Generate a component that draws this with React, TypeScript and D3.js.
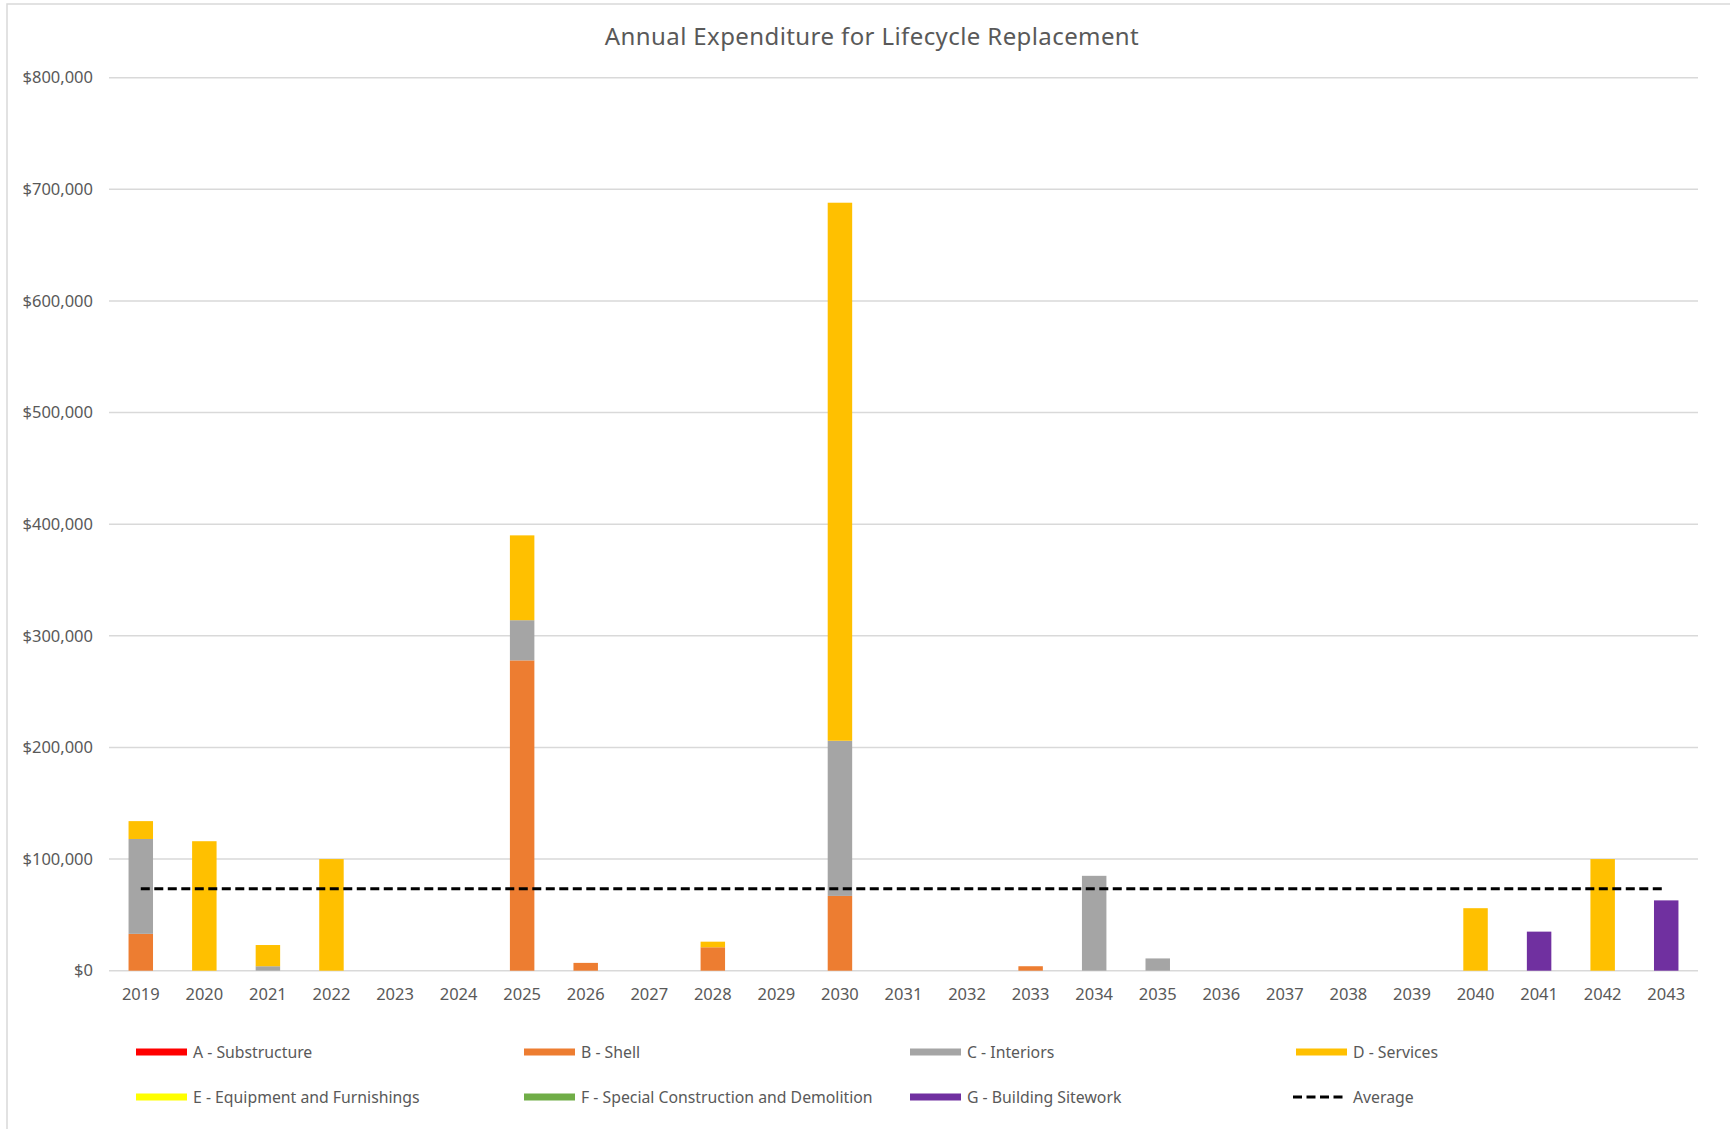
import React from "react";
import * as d3 from "d3";

// Category axis: one bar per year
const years = [
  "2019", "2020", "2021", "2022", "2023", "2024", "2025", "2026", "2027", "2028",
  "2029", "2030", "2031", "2032", "2033", "2034", "2035", "2036", "2037", "2038",
  "2039", "2040", "2041", "2042", "2043",
];

// Expenditure per building system, in dollars, aligned with `years`
const substructure = [0, 0, 0, 0, 0, 0, 0, 0, 0, 0, 0, 0, 0, 0, 0, 0, 0, 0, 0, 0, 0, 0, 0, 0, 0];
const shell = [33000, 0, 0, 0, 0, 0, 278000, 7000, 0, 21000, 0, 67000, 0, 0, 4000, 0, 0, 0, 0, 0, 0, 0, 0, 0, 0];
const interiors = [85000, 0, 4000, 0, 0, 0, 36000, 0, 0, 0, 0, 139000, 0, 0, 0, 85000, 11000, 0, 0, 0, 0, 0, 0, 0, 0];
const services = [16000, 116000, 19000, 100000, 0, 0, 76000, 0, 0, 5000, 0, 482000, 0, 0, 0, 0, 0, 0, 0, 0, 0, 56000, 0, 100000, 0];
const equipment = [0, 0, 0, 0, 0, 0, 0, 0, 0, 0, 0, 0, 0, 0, 0, 0, 0, 0, 0, 0, 0, 0, 0, 0, 0];
const specialConstruction = [0, 0, 0, 0, 0, 0, 0, 0, 0, 0, 0, 0, 0, 0, 0, 0, 0, 0, 0, 0, 0, 0, 0, 0, 0];
const sitework = [0, 0, 0, 0, 0, 0, 0, 0, 0, 0, 0, 0, 0, 0, 0, 0, 0, 0, 0, 0, 0, 0, 35000, 0, 63000];

const seriesNames = [
  "A - Substructure",
  "B - Shell",
  "C - Interiors",
  "D - Services",
  "E - Equipment and Furnishings",
  "F - Special Construction and Demolition",
  "G - Building Sitework",
];
const seriesValues = [substructure, shell, interiors, services, equipment, specialConstruction, sitework];
const seriesColors = ["#FF0000", "#ED7D31", "#A5A5A5", "#FFC000", "#FFFF00", "#70AD47", "#7030A0"];

const yTicks = [0, 100000, 200000, 300000, 400000, 500000, 600000, 700000, 800000];

const W = 1730;
const H = 1129;
const plotLeft = 109;
const plotRight = 1698;
const plotTop = 77.7;
const plotBottom = 970.7;
const FONT = "'Noto Sans', 'Open Sans', sans-serif";
const TEXT = "#595959";

export default function App() {
  const rows = years.map((year, i) => {
    const row: Record<string, any> = { year };
    seriesNames.forEach((name, s) => (row[name] = seriesValues[s][i]));
    return row;
  });
  const totals = years.map((_, i) => d3.sum(seriesValues, (vals) => vals[i]));
  const average = d3.mean(totals) as number;

  const x = d3.scaleBand<string>().domain(years).range([plotLeft, plotRight]).paddingInner(0.615).paddingOuter(0.3075);
  const y = d3.scaleLinear().domain([0, 800000]).range([plotBottom, plotTop]);
  const stacked = d3.stack<any>().keys(seriesNames)(rows);
  const fmt = (v: number) => "$" + d3.format(",")(v);

  const avgLine = d3.line<string>()
    .x((d) => (x(d) as number) + x.bandwidth() / 2)
    .y(() => y(average));

  const legendCols = [136, 524, 910, 1296];
  const legendRows = [1052, 1097];
  const legendItems = [...seriesNames.map((n, i) => ({ name: n, color: seriesColors[i], dashed: false })),
    { name: "Average", color: "#000", dashed: true }];

  return (
    <svg width={W} height={H} style={{ position: "absolute", left: 0, top: 0, background: "#fff" }} fontFamily={FONT}>
      <rect x={7} y={4} width={W} height={H} fill="#fff" stroke="#d9d9d9" strokeWidth={1.5} />
      <text x={872} y={45} textAnchor="middle" fontSize={24} letterSpacing={0.4} fill={TEXT}>
        Annual Expenditure for Lifecycle Replacement
      </text>

      {yTicks.map((t) => (
        <g key={t}>
          <line x1={plotLeft} x2={plotRight} y1={y(t)} y2={y(t)} stroke="#d9d9d9" strokeWidth={1.5} />
          <text x={93} y={y(t)} dy="0.35em" textAnchor="end" fontSize={16.5} fill={TEXT}>
            {fmt(t)}
          </text>
        </g>
      ))}

      {stacked.map((layer, s) => (
        <g key={layer.key} fill={seriesColors[s]}>
          {layer.map((d, i) =>
            d[1] - d[0] > 0 ? (
              <rect key={i} x={x(years[i])} width={x.bandwidth()} y={y(d[1])} height={y(d[0]) - y(d[1])} />
            ) : null
          )}
        </g>
      ))}

      <path d={avgLine(years) as string} fill="none" stroke="#000" strokeWidth={3} strokeDasharray="9 4.5" />

      {years.map((yr) => (
        <text key={yr} x={(x(yr) as number) + x.bandwidth() / 2} y={1000} textAnchor="middle" fontSize={16.5} fill={TEXT}>
          {yr}
        </text>
      ))}

      {legendItems.map((item, i) => {
        const lx = legendCols[i % 4];
        const ly = legendRows[Math.floor(i / 4)];
        return (
          <g key={item.name}>
            {item.dashed ? (
              <line x1={lx - 3} x2={lx + 51} y1={ly} y2={ly} stroke="#000" strokeWidth={3} strokeDasharray="9 4.5" />
            ) : (
              <rect x={lx} y={ly - 3.5} width={51} height={7} fill={item.color} />
            )}
            <text x={lx + 57} y={ly} dy="0.35em" fontSize={15.8} fill={TEXT}>
              {item.name}
            </text>
          </g>
        );
      })}
    </svg>
  );
}
